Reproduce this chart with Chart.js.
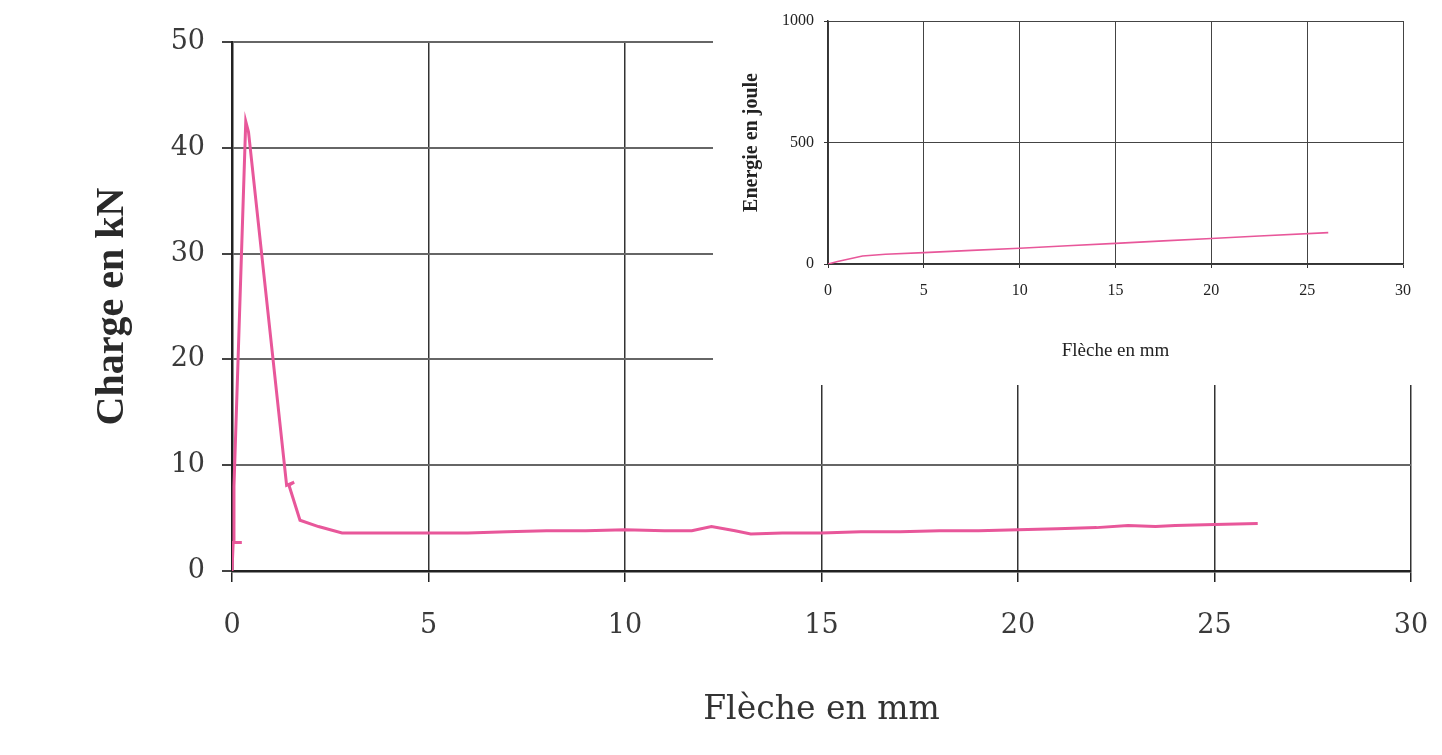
<!DOCTYPE html>
<html>
<head>
<meta charset="utf-8">
<script src="https://cdn.jsdelivr.net/npm/chart.js@4.4.1/dist/chart.umd.min.js"></script>
<style>
    html, body { margin: 0; padding: 0; background: #fff; }
    #wrap { position: relative; width: 1442px; height: 755px; overflow: hidden; background: #fff; }
    #mainChart { position: absolute; left: 0; top: 0; }
    #insetBox { position: absolute; left: 713px; top: 0; width: 710px; height: 385px; background: #fff; }
</style>
</head>
<body>
<div id="wrap">
    <canvas id="mainChart" width="1442" height="755"></canvas>
    <div id="insetBox"><canvas id="insetChart" width="710" height="385"></canvas></div>
</div>
<script>
// main curve: load vs deflection
const flecheMm = [0, 0.03, 0.25, 0.03, 0.05, 0.35, 0.42, 1.39, 1.58, 1.45, 1.73, 2.2, 2.8, 4, 5, 6, 7, 8, 9, 10, 11, 11.7, 12.2, 12.8, 13.2, 14, 15, 16, 17, 18, 19, 20, 21, 22, 22.8, 23.5, 24, 25, 26.1];
const chargeKn = [0, 2.7, 2.7, 2.7, 8, 42.5, 41.5, 8.1, 8.4, 8.1, 4.8, 4.2, 3.6, 3.6, 3.6, 3.6, 3.7, 3.8, 3.8, 3.9, 3.8, 3.8, 4.2, 3.8, 3.5, 3.6, 3.6, 3.7, 3.7, 3.8, 3.8, 3.9, 4.0, 4.1, 4.3, 4.2, 4.3, 4.4, 4.5];

// inset curve: energy vs deflection
const insetFlecheMm = [0, 0.5, 1.8, 3, 5, 7.5, 10, 12.5, 15, 17.5, 20, 22.5, 26.1];
const energieJoule = [0, 10, 33, 40, 47, 56, 65, 75, 85, 95, 105, 115, 129];

const mainXTicks = [0, 5, 10, 15, 20, 25, 30];
const mainYTicks = [0, 10, 20, 30, 40, 50];
const insetXTicks = [0, 5, 10, 15, 20, 25, 30];
const insetYTicks = [0, 500, 1000];

const pink = '#e8579a';

function toPoints(xs, ys) {
    return xs.map((x, i) => ({ x: x, y: ys[i] }));
}

function fixedTicks(values) {
    return (axis) => { axis.ticks = values.map(v => ({ value: v })); };
}

// fixed axis size, and no extra side padding from the edge labels
function fitX(height) {
    return (axis) => {
        axis.height = height;
        axis.paddingLeft = 0;
        axis.paddingRight = 0;
    };
}

const plainLabel = (value) => String(value);

new Chart(document.getElementById('mainChart'), {
    type: 'scatter',
    data: {
        datasets: [{
            data: toPoints(flecheMm, chargeKn),
            showLine: true,
            borderColor: pink,
            borderWidth: 3,
            pointRadius: 0,
            tension: 0
        }]
    },
    options: {
        responsive: false,
        animation: false,
        layout: { padding: { left: 0, right: 31, top: 42, bottom: 0 } },
        plugins: { legend: { display: false }, tooltip: { enabled: false } },
        scales: {
            x: {
                type: 'linear',
                min: 0, max: 30,
                afterBuildTicks: fixedTicks(mainXTicks),
                afterFit: fitX(184),
                grid: { color: '#333', lineWidth: 1.5, tickLength: 11, tickColor: '#222' },
                border: { color: '#222', width: 2.5 },
                ticks: { color: '#3a3a3a', padding: 28, callback: plainLabel, font: { family: 'DejaVu Serif', size: 27 } },
                title: {
                    display: true,
                    text: 'Flèche en mm',
                    color: '#333',
                    font: { family: 'DejaVu Serif', size: 33 },
                    padding: { top: 0, bottom: 25 }
                }
            },
            y: {
                min: 0, max: 50,
                afterBuildTicks: fixedTicks(mainYTicks),
                afterFit: (axis) => { axis.width = 232; },
                grid: { color: '#666', lineWidth: 2, tickLength: 10, tickColor: '#444' },
                border: { color: '#222', width: 2.5 },
                ticks: { color: '#3a3a3a', padding: 17, callback: plainLabel, font: { family: 'DejaVu Serif', size: 27 } },
                title: {
                    display: true,
                    text: 'Charge en kN',
                    color: '#2a2a2a',
                    font: { family: 'Liberation Serif', size: 40, weight: 'bold' },
                    padding: { top: 89, bottom: 0 }
                }
            }
        }
    }
});

new Chart(document.getElementById('insetChart'), {
    type: 'scatter',
    data: {
        datasets: [{
            data: toPoints(insetFlecheMm, energieJoule),
            showLine: true,
            borderColor: pink,
            borderWidth: 1.6,
            pointRadius: 0,
            tension: 0
        }]
    },
    options: {
        responsive: false,
        animation: false,
        layout: { padding: { left: 0, right: 20, top: 21, bottom: 0 } },
        plugins: { legend: { display: false }, tooltip: { enabled: false } },
        scales: {
            x: {
                type: 'linear',
                min: 0, max: 30,
                afterBuildTicks: fixedTicks(insetXTicks),
                afterFit: fitX(121),
                grid: { color: '#444', lineWidth: 1, tickLength: 4, tickColor: '#333' },
                border: { color: '#333', width: 1.5 },
                ticks: { color: '#222', padding: 13, callback: plainLabel, font: { family: 'Liberation Serif', size: 16 } },
                title: {
                    display: true,
                    text: 'Flèche en mm',
                    color: '#222',
                    font: { family: 'Liberation Serif', size: 19 },
                    padding: { top: 0, bottom: 23 }
                }
            },
            y: {
                min: 0, max: 1000,
                afterBuildTicks: fixedTicks(insetYTicks),
                afterFit: (axis) => { axis.width = 115; },
                grid: { color: '#444', lineWidth: 1, tickLength: 4, tickColor: '#333' },
                border: { color: '#333', width: 1.5 },
                ticks: { color: '#222', padding: 10, callback: plainLabel, font: { family: 'Liberation Serif', size: 16 } },
                title: {
                    display: true,
                    text: 'Energie en joule',
                    color: '#222',
                    font: { family: 'Liberation Serif', size: 20, weight: 'bold' },
                    padding: { top: 27, bottom: 0 }
                }
            }
        }
    }
});
</script>
</body>
</html>
